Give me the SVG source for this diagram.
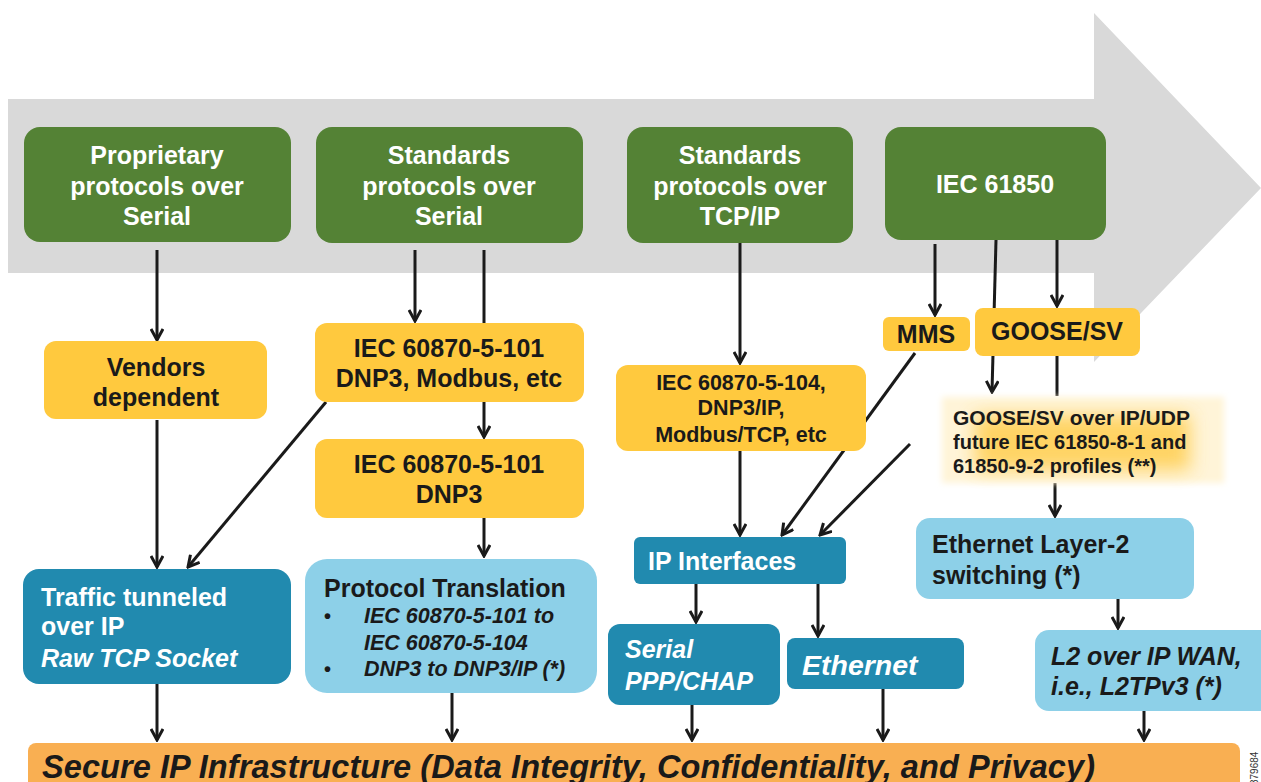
<svg xmlns="http://www.w3.org/2000/svg" width="1261" height="782" viewBox="0 0 1261 782">
<defs>
<style>
text{font-family:"Liberation Sans",Arial,sans-serif;font-weight:bold}
.g{fill:#548235}
.y{fill:#FFC93E}
.d{fill:#218AAF}
.l{fill:#8DD0E8}
.wt{fill:#fff;font-size:25px}
.bt{fill:#1a1a1a;font-size:25px}
.it{font-style:italic}
.c{text-anchor:middle}
.cn line{stroke:#1a1a1a;stroke-width:3;fill:none}
.cn .a{marker-end:url(#ah)}
</style>
<marker id="ah" markerUnits="userSpaceOnUse" viewBox="0 0 14 14" markerWidth="14" markerHeight="14" refX="12" refY="7" orient="auto">
<path d="M1,1 L12,7 L1,13" fill="none" stroke="#1a1a1a" stroke-width="3"/>
</marker>
<filter id="blur" x="-30%" y="-50%" width="160%" height="200%"><feGaussianBlur stdDeviation="9"/></filter>
<filter id="blur2" x="-10%" y="-20%" width="120%" height="140%"><feGaussianBlur stdDeviation="3"/></filter>
</defs>

<polygon id="bigArrow" points="8,99 1094,99 1094,13 1261,188 1094,362 1094,273 8,273" fill="#D9D9D9"/>

<g class="cn" id="connectors">
<line class="a" x1="157" y1="250" x2="157" y2="340"/>
<line class="a" x1="157" y1="420" x2="157" y2="567"/>
<line class="a" x1="415" y1="250" x2="415" y2="321"/>
<line class="a" x1="484" y1="250" x2="484" y2="437"/>
<line class="a" x1="484" y1="518" x2="484" y2="556"/>
<line class="a" x1="326" y1="402" x2="188" y2="567"/>
<line class="a" x1="157" y1="684" x2="157" y2="740"/>
<line class="a" x1="452" y1="693" x2="452" y2="740"/>
<line class="a" x1="740" y1="243" x2="740" y2="363"/>
<line class="a" x1="740" y1="451" x2="740" y2="535"/>
<line class="a" x1="915" y1="353" x2="782" y2="535"/>
<line class="a" x1="910" y1="444" x2="820" y2="535"/>
<line class="a" x1="935" y1="244" x2="935" y2="315"/>
<line class="a" x1="996" y1="240" x2="992" y2="392"/>
<line class="a" x1="1057" y1="240" x2="1057" y2="306"/>
<line x1="1057" y1="356" x2="1057" y2="396"/>
<line class="a" x1="1055" y1="483" x2="1055" y2="516"/>
<line class="a" x1="1118" y1="599" x2="1118" y2="628"/>
<line class="a" x1="696" y1="584" x2="696" y2="622"/>
<line class="a" x1="818" y1="584" x2="818" y2="636"/>
<line class="a" x1="692" y1="705" x2="692" y2="740"/>
<line class="a" x1="883" y1="689" x2="883" y2="740"/>
<line class="a" x1="1144" y1="711" x2="1144" y2="740"/>
</g>

<g id="proprietary">
<rect class="g" x="24" y="127" width="267" height="115" rx="16"/>
<text class="wt c" x="157" y="164">Proprietary</text>
<text class="wt c" x="157" y="195">protocols over</text>
<text class="wt c" x="157" y="225">Serial</text>
</g>
<g id="stdSerial">
<rect class="g" x="316" y="127" width="267" height="116" rx="16"/>
<text class="wt c" x="449" y="164">Standards</text>
<text class="wt c" x="449" y="195">protocols over</text>
<text class="wt c" x="449" y="225">Serial</text>
</g>
<g id="stdTcp">
<rect class="g" x="627" y="127" width="226" height="116" rx="16"/>
<text class="wt c" x="740" y="164">Standards</text>
<text class="wt c" x="740" y="195">protocols over</text>
<text class="wt c" x="740" y="225">TCP/IP</text>
</g>
<g id="iec61850">
<rect class="g" x="885" y="127" width="221" height="113" rx="16"/>
<text class="wt c" x="995" y="193">IEC 61850</text>
</g>

<g id="vendors">
<rect class="y" x="44" y="341" width="223" height="78" rx="12"/>
<text class="bt c" x="156" y="376">Vendors</text>
<text class="bt c" x="156" y="406">dependent</text>
</g>
<g id="iec101a">
<rect class="y" x="315" y="323" width="269" height="79" rx="12"/>
<text class="bt c" x="449" y="357">IEC 60870-5-101</text>
<text class="bt c" x="449" y="387">DNP3, Modbus, etc</text>
</g>
<g id="iec101b">
<rect class="y" x="315" y="439" width="269" height="79" rx="12"/>
<text class="bt c" x="449" y="473">IEC 60870-5-101</text>
<text class="bt c" x="449" y="503">DNP3</text>
</g>
<g id="iec104">
<rect class="y" x="616" y="365" width="250" height="86" rx="12"/>
<text class="bt c" x="741" y="390" style="font-size:21.5px">IEC 60870-5-104,</text>
<text class="bt c" x="741" y="415" style="font-size:21.5px">DNP3/IP,</text>
<text class="bt c" x="741" y="442" style="font-size:21.5px">Modbus/TCP, etc</text>
</g>
<g id="mms">
<rect class="y" x="883" y="317" width="87" height="34" rx="6"/>
<text class="bt c" x="926" y="343">MMS</text>
</g>
<g id="goose">
<rect class="y" x="975" y="308" width="165" height="48" rx="8"/>
<text class="bt c" x="1057" y="340">GOOSE/SV</text>
</g>
<g id="gooseIp">
<rect x="942" y="397" width="282" height="86" fill="#FFF4D8" filter="url(#blur2)"/>
<rect x="975" y="415" width="215" height="55" fill="#FFC93E" opacity="0.75" filter="url(#blur)"/>
<text class="bt" x="953" y="425" style="font-size:21px">GOOSE/SV over IP/UDP</text>
<text class="bt" x="953" y="449" style="font-size:20px">future IEC 61850-8-1 and</text>
<text class="bt" x="953" y="473" style="font-size:20px">61850-9-2 profiles (**)</text>
</g>

<g id="traffic">
<rect class="d" x="23" y="569" width="268" height="115" rx="16"/>
<text class="wt" x="41" y="606">Traffic tunneled</text>
<text class="wt" x="41" y="635">over IP</text>
<text class="wt it" x="41" y="667">Raw TCP Socket</text>
</g>
<g id="translation">
<rect class="l" x="305" y="559" width="292" height="134" rx="22"/>
<text class="bt" x="324" y="597">Protocol Translation</text>
<text class="bt" x="324" y="623" style="font-size:20px">•</text>
<text class="bt it" x="364" y="623" style="font-size:21.5px">IEC 60870-5-101 to</text>
<text class="bt it" x="364" y="650" style="font-size:21.5px">IEC 60870-5-104</text>
<text class="bt" x="324" y="676" style="font-size:20px">•</text>
<text class="bt it" x="364" y="676" style="font-size:21.5px">DNP3 to DNP3/IP (*)</text>
</g>
<g id="ipInterfaces">
<rect class="d" x="634" y="537" width="212" height="47" rx="6"/>
<text class="wt" x="648" y="570">IP Interfaces</text>
</g>
<g id="serial">
<rect class="d" x="608" y="624" width="172" height="81" rx="12"/>
<text class="wt it" x="625" y="658">Serial</text>
<text class="wt it" x="625" y="690">PPP/CHAP</text>
</g>
<g id="ethernet">
<rect class="d" x="787" y="638" width="177" height="51" rx="8"/>
<text class="wt it" x="802" y="675" style="font-size:28.5px">Ethernet</text>
</g>
<g id="ethL2">
<rect class="l" x="916" y="518" width="278" height="81" rx="14"/>
<text class="bt" x="932" y="553">Ethernet Layer-2</text>
<text class="bt" x="932" y="584">switching (*)</text>
</g>
<g id="l2wan">
<rect class="l" x="1035" y="630" width="240" height="81" rx="14"/>
<text class="bt it" x="1051" y="665">L2 over IP WAN,</text>
<text class="bt it" x="1051" y="695">i.e., L2TPv3 (*)</text>
</g>

<g id="secure">
<rect x="28" y="743" width="1212" height="60" rx="8" fill="#F9AF52"/>
<text class="it" x="42" y="778" style="font-size:32.5px;fill:#1a1a1a" textLength="1053">Secure IP Infrastructure (Data Integrity, Confidentiality, and Privacy)</text>
</g>
<text transform="translate(1258,785) rotate(-90)" style="font-size:10px;font-weight:normal;fill:#333">379684</text>
</svg>
